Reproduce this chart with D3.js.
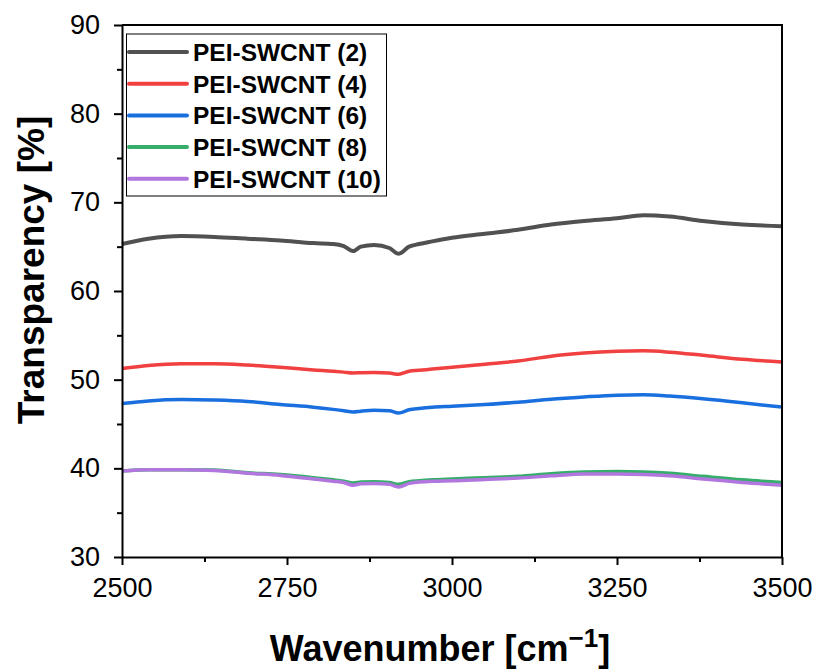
<!DOCTYPE html>
<html>
<head>
<meta charset="utf-8">
<script src="https://cdn.jsdelivr.net/npm/d3@7"></script>
<style>
  body { margin: 0; background: #fff; }
  svg { font-family: "Liberation Sans", Arial, sans-serif; }
</style>
</head>
<body>
<div id="root"></div>
<script>
const WIDTH = 816;
const HEIGHT = 670;
const MARGIN = {top: 25, right: 34, bottom: 113, left: 122};

// wavenumbers shared by all series
const wavenumbers = [2500, 2540, 2590, 2640, 2690, 2740, 2790, 2820, 2836, 2850, 2862, 2882, 2905, 2919,
    2935, 2950, 2970, 3000, 3050, 3100, 3150, 3200, 3250, 3290, 3330, 3380, 3440, 3500];

const pei2 = [65.3, 65.9, 66.2, 66.1, 65.9, 65.7, 65.4, 65.3, 65.05, 64.5, 65.0, 65.2, 64.85, 64.2,
    65.0, 65.3, 65.6, 66.0, 66.45, 66.9, 67.5, 67.9, 68.2, 68.55, 68.4, 67.9, 67.5, 67.3];
const pei4 = [51.25, 51.6, 51.8, 51.8, 51.65, 51.4, 51.1, 50.95, 50.85, 50.75, 50.78, 50.8, 50.75, 50.6,
    50.95, 51.05, 51.2, 51.4, 51.75, 52.1, 52.65, 53.0, 53.2, 53.25, 53.1, 52.75, 52.3, 52.0];
const pei6 = [47.3, 47.6, 47.75, 47.7, 47.55, 47.2, 46.9, 46.65, 46.5, 46.35, 46.45, 46.55, 46.5, 46.25,
    46.6, 46.75, 46.9, 47.0, 47.2, 47.45, 47.8, 48.05, 48.25, 48.3, 48.15, 47.85, 47.4, 46.9];
const pei8 = [39.7, 39.85, 39.85, 39.8, 39.5, 39.3, 38.95, 38.7, 38.55, 38.35, 38.45, 38.5, 38.4, 38.2,
    38.5, 38.6, 38.7, 38.8, 38.95, 39.1, 39.4, 39.6, 39.65, 39.6, 39.45, 39.1, 38.7, 38.4];
const pei10 = [39.7, 39.85, 39.85, 39.75, 39.45, 39.2, 38.8, 38.55, 38.4, 38.1, 38.25, 38.3, 38.2, 37.9,
    38.3, 38.45, 38.55, 38.6, 38.75, 38.9, 39.15, 39.35, 39.35, 39.3, 39.15, 38.8, 38.4, 38.1];

const seriesNames = ["PEI-SWCNT (2)", "PEI-SWCNT (4)", "PEI-SWCNT (6)", "PEI-SWCNT (8)", "PEI-SWCNT (10)"];
const seriesValues = [pei2, pei4, pei6, pei8, pei10];
const seriesColors = ["#515151", "#F14040", "#1A6FDF", "#37AD6B", "#B177DE"];

const xTicks = [2500, 2750, 3000, 3250, 3500];
const xMinor = [2625, 2875, 3125, 3375];
const yTicks = [30, 40, 50, 60, 70, 80, 90];
const yMinor = [35, 45, 55, 65, 75, 85];

const xScale = d3.scaleLinear()
    .domain([2500, 3500])
    .range([MARGIN.left, WIDTH - MARGIN.right]);

const yScale = d3.scaleLinear()
    .domain([30, 90])
    .range([HEIGHT - MARGIN.bottom, MARGIN.top]);

const svg = d3.select("#root")
    .append("svg")
    .attr("width", WIDTH)
    .attr("height", HEIGHT);

// series lines
const line = d3.line()
    .x((d, i) => xScale(wavenumbers[i]))
    .y(d => yScale(d))
    .curve(d3.curveMonotoneX);

svg.append("g")
    .selectAll("path")
    .data(seriesValues)
    .join("path")
    .attr("d", d => line(d))
    .attr("fill", "none")
    .attr("stroke", (d, i) => seriesColors[i])
    .attr("stroke-width", (d, i) => i === 0 ? 4 : 3.5)
    .attr("stroke-linejoin", "round");

// frame (top and right)
const plotRight = WIDTH - MARGIN.right;
const plotBottom = HEIGHT - MARGIN.bottom;
svg.append("path")
    .attr("d", `M${MARGIN.left},${MARGIN.top}H${plotRight}V${plotBottom}`)
    .attr("fill", "none")
    .attr("stroke", "#000")
    .attr("stroke-width", 2);

// axes
function styleAxis(g) {
    g.select(".domain").attr("stroke-width", 2);
    g.selectAll(".tick line").attr("stroke-width", 2);
    g.selectAll(".tick text").attr("font-size", 27).attr("fill", "#000");
}

svg.append("g")
    .attr("transform", `translate(0, ${plotBottom})`)
    .call(d3.axisBottom(xScale).tickValues(xMinor).tickSize(5).tickFormat("").tickSizeOuter(0))
    .call(g => g.select(".domain").remove())
    .call(g => g.selectAll(".tick line").attr("stroke-width", 2));

svg.append("g")
    .attr("transform", `translate(0, ${plotBottom})`)
    .call(d3.axisBottom(xScale).tickValues(xTicks).tickSize(8).tickPadding(13).tickSizeOuter(0).tickFormat(d3.format("d")))
    .call(styleAxis);

svg.append("g")
    .attr("transform", `translate(${MARGIN.left}, 0)`)
    .call(d3.axisLeft(yScale).tickValues(yMinor).tickSize(5).tickFormat("").tickSizeOuter(0))
    .call(g => g.select(".domain").remove())
    .call(g => g.selectAll(".tick line").attr("stroke-width", 2));

svg.append("g")
    .attr("transform", `translate(${MARGIN.left}, 0)`)
    .call(d3.axisLeft(yScale).tickValues(yTicks).tickSize(8).tickPadding(14).tickSizeOuter(0))
    .call(styleAxis);

// axis titles
svg.append("text")
    .attr("x", 440)
    .attr("y", 661)
    .attr("text-anchor", "middle")
    .attr("font-size", 36)
    .attr("font-weight", "bold")
    .text("Wavenumber [cm")
    .call(t => t.append("tspan").attr("font-size", 26).attr("dy", -14).text("\u22121"))
    .call(t => t.append("tspan").attr("dy", 14).text("]"));

svg.append("text")
    .attr("transform", "translate(44, 270) rotate(-90)")
    .attr("text-anchor", "middle")
    .attr("font-size", 37)
    .attr("font-weight", "bold")
    .text("Transparency [%]");

// legend
const legend = svg.append("g");
legend.append("rect")
    .attr("x", 126.5)
    .attr("y", 34)
    .attr("width", 260)
    .attr("height", 162)
    .attr("fill", "#fff")
    .attr("stroke", "#000")
    .attr("stroke-width", 1);

const rows = legend.selectAll(".row")
    .data(seriesNames)
    .join("g")
    .attr("class", "row")
    .attr("transform", (d, i) => `translate(0, ${52 + i * 31.7})`);

rows.append("line")
    .attr("x1", 129)
    .attr("x2", 187)
    .attr("stroke", (d, i) => seriesColors[i])
    .attr("stroke-width", 4)
    .attr("stroke-linecap", "round");

rows.append("text")
    .attr("x", 193)
    .attr("dy", "0.36em")
    .attr("font-size", 24.5)
    .attr("font-weight", "bold")
    .text(d => d);
</script>
</body>
</html>
